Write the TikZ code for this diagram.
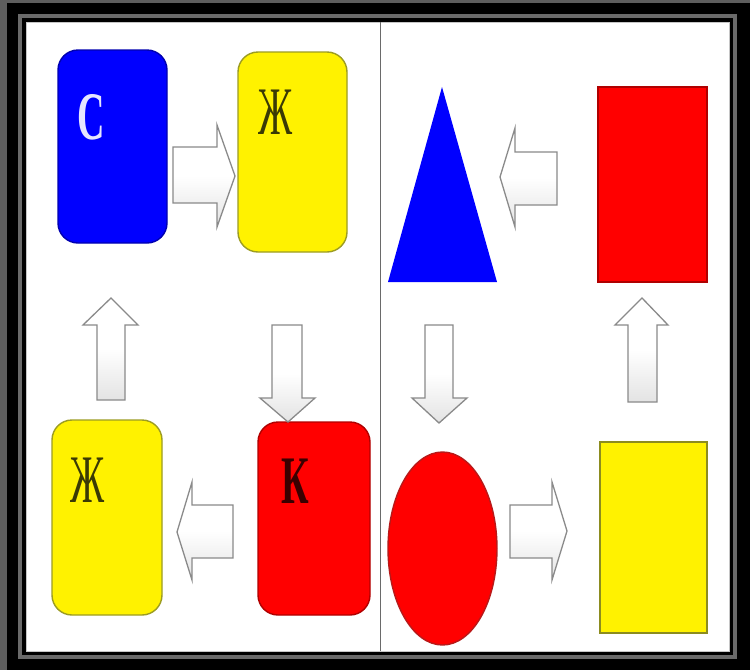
\documentclass[tikz,border=0pt]{standalone}
\usepackage{fontspec}
\setmainfont{Liberation Serif}
\usetikzlibrary{shapes.geometric}
\definecolor{frgrey}{HTML}{5E5E5E}
\definecolor{lineg}{HTML}{6A6A6A}
\definecolor{arrg}{HTML}{8A8A8A}
\definecolor{ybord}{HTML}{9C9C22}
\definecolor{rbord}{HTML}{B00000}
\definecolor{bbord}{HTML}{0000B0}
\definecolor{cletter}{HTML}{E6E6FF}
\definecolor{zhcol}{HTML}{3A3A05}
\definecolor{kcol}{HTML}{3A0000}
\tikzset{
  rbox/.style={rectangle, rounded corners=20pt, line width=1.4pt, inner sep=0pt},
  sbox/.style={rectangle, line width=1.4pt, inner sep=0pt},
  barrow/.style={draw=arrg, line width=1.3pt, line join=miter, top color=white, bottom color=gray!22, middle color=white},
  letter/.style={inner sep=0pt}
}
\newcommand{\bigletter}[1]{\scalebox{0.56}[1]{\fontsize{68}{68}\selectfont #1}}
\begin{document}
\begin{tikzpicture}[x=1pt,y=-1pt]
\useasboundingbox (0,0) rectangle (750,670);
% frame
\fill[black] (0,0) rectangle (750,670);
\fill[frgrey] (0,0) rectangle (750,3);
\fill[frgrey] (0,0) rectangle (7,670);
\draw[lineg, line width=4pt] (19.5,16) rectangle (735,657);
\draw[gray!45, fill=white, line width=1pt] (26,22) rectangle (729,651);
% divider
\draw[lineg, line width=1.6pt] (380.5,22) -- (380.5,651);
% left panel boxes
\node[rbox, fill=blue, draw=bbord, minimum width=109pt, minimum height=193pt] (bc) at (112.5,146.5) {};
\node[rbox, fill=yellow, draw=ybord, minimum width=109pt, minimum height=200pt] (yz1) at (292.5,152) {};
\node[rbox, fill=yellow, draw=ybord, minimum width=110pt, minimum height=195pt] (yz2) at (107,517.5) {};
\node[rbox, fill=red, draw=rbord, minimum width=112pt, minimum height=193pt] (rk) at (314,518.5) {};
% letters
\node[letter, text=cletter] (lc) at (91.5,117.5) {\bigletter{\bfseries С}};
\node[letter, text=zhcol] (lz1) at (275.5,112) {\bigletter{Ж}};
\node[letter, text=zhcol] (lz2) at (87.5,480) {\bigletter{Ж}};
\node[letter, text=kcol] (lk) at (295,481.5) {\bigletter{\bfseries К}};
% left panel arrows
\draw[barrow] (173,147) -- (217,147) -- (217,125) -- (235,176) -- (217,227) -- (217,203) -- (173,203) -- cycle;
\draw[barrow] (233,505) -- (192,505) -- (192,482) -- (177,532) -- (192,580) -- (192,558) -- (233,558) -- cycle;
\draw[barrow] (97,400) -- (97,325) -- (83,325) -- (111,298) -- (138,325) -- (125,325) -- (125,400) -- cycle;
\draw[barrow] (272,325) -- (302,325) -- (302,398) -- (315,398) -- (288,422) -- (260,398) -- (272,398) -- cycle;
% right panel shapes
\coordinate (tA) at (442,87);
\coordinate (tB) at (497,282);
\coordinate (tC) at (388,282);
\fill[blue] (tA) -- (tB) -- (tC) -- cycle;
\node[sbox, fill=red, draw=rbord, minimum width=109pt, minimum height=195pt] (rsq) at (652.5,184.5) {};
\node[ellipse, fill=red, draw=rbord!90, line width=1.4pt, inner sep=0pt, minimum width=109pt, minimum height=193pt] (ov) at (442.5,548.5) {};
\node[sbox, fill=yellow, draw=ybord!90!black, minimum width=107pt, minimum height=191pt] (ysq) at (653.5,537.5) {};
% right panel arrows
\draw[barrow] (557,152) -- (515,152) -- (515,128) -- (500,177) -- (515,227) -- (515,205) -- (557,205) -- cycle;
\draw[barrow] (510,505) -- (552,505) -- (552,482) -- (567,531) -- (552,580) -- (552,558) -- (510,558) -- cycle;
\draw[barrow] (425,325) -- (453,325) -- (453,398) -- (467,398) -- (439,423) -- (412,398) -- (425,398) -- cycle;
\draw[barrow] (628,402) -- (628,325) -- (615,325) -- (642,298) -- (668,325) -- (657,325) -- (657,402) -- cycle;
\end{tikzpicture}
\end{document}
